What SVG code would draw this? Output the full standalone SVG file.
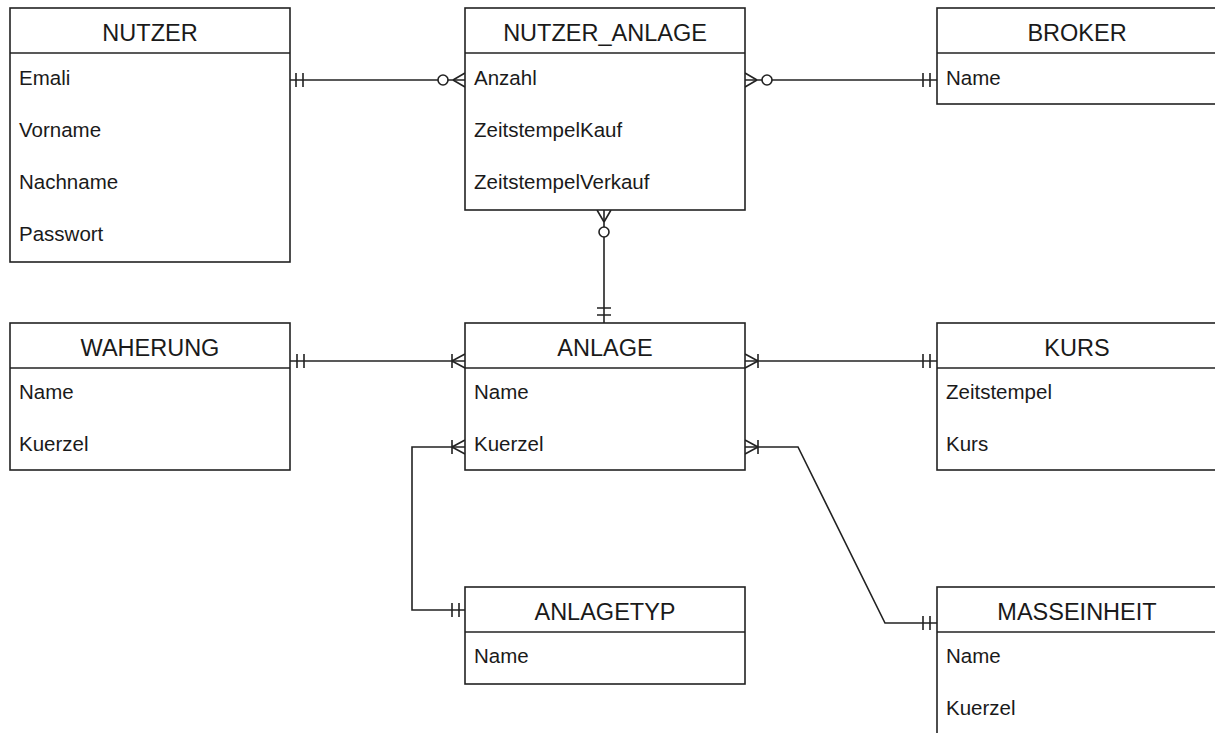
<svg xmlns="http://www.w3.org/2000/svg" width="1215" height="733" viewBox="0 0 1215 733">
<style>
.box{fill:#fff;stroke:#222;stroke-width:1.6}
.div{stroke:#222;stroke-width:1.6}
.hd{font-family:"Liberation Sans",Arial,sans-serif;font-size:23.5px;fill:#1a1a1a;text-anchor:middle}
.rw{font-family:"Liberation Sans",Arial,sans-serif;font-size:20.5px;fill:#1a1a1a}
.ln{fill:none;stroke:#222;stroke-width:1.6}
.ci{fill:#fff;stroke:#222;stroke-width:1.6}
</style>
<rect width="1215" height="733" fill="#fff"/>
<g id="connectors">
  <!-- NUTZER - NUTZER_ANLAGE -->
  <path class="ln" d="M290,80 H465"/>
  <path class="ln" d="M296,73 V87 M303,73 V87"/>
  <path class="ln" d="M453,80 L465,73 M453,80 L465,87"/>
  <circle class="ci" cx="443" cy="80" r="5"/>
  <!-- NUTZER_ANLAGE - BROKER -->
  <path class="ln" d="M745,80 H937"/>
  <path class="ln" d="M757,80 L745,73 M757,80 L745,87"/>
  <circle class="ci" cx="767" cy="80" r="5"/>
  <path class="ln" d="M923,73 V87 M930,73 V87"/>
  <!-- NUTZER_ANLAGE - ANLAGE -->
  <path class="ln" d="M604,210 V323"/>
  <path class="ln" d="M604,222 L597,210 M604,222 L611,210"/>
  <circle class="ci" cx="604" cy="232" r="5"/>
  <path class="ln" d="M597,308 H611 M597,315 H611"/>
  <!-- WAHERUNG - ANLAGE -->
  <path class="ln" d="M290,361 H465"/>
  <path class="ln" d="M297,354 V368 M304,354 V368"/>
  <path class="ln" d="M452,361 L465,354 M452,361 L465,368 M452,354 V368"/>
  <!-- ANLAGE - KURS -->
  <path class="ln" d="M745,361 H937"/>
  <path class="ln" d="M758,361 L745,354 M758,361 L745,368 M758,354 V368"/>
  <path class="ln" d="M923,354 V368 M930,354 V368"/>
  <!-- ANLAGE - ANLAGETYP -->
  <path class="ln" d="M465,447 H412 V610 H465"/>
  <path class="ln" d="M452,447 L465,440 M452,447 L465,454 M452,440 V454"/>
  <path class="ln" d="M452,603 V617 M459,603 V617"/>
  <!-- ANLAGE - MASSEINHEIT -->
  <path class="ln" d="M745,447 H798 L885,623 H937"/>
  <path class="ln" d="M758,447 L745,440 M758,447 L745,454 M758,440 V454"/>
  <path class="ln" d="M923,616 V630 M930,616 V630"/>
</g>
<g id="NUTZER">
  <rect class="box" x="10" y="8" width="280" height="254"/>
  <line class="div" x1="10" y1="53" x2="290" y2="53"/>
  <text class="hd" x="150" y="41">NUTZER</text>
  <text class="rw" x="19" y="85">Emali</text>
  <text class="rw" x="19" y="137">Vorname</text>
  <text class="rw" x="19" y="189">Nachname</text>
  <text class="rw" x="19" y="241">Passwort</text>
</g>
<g id="NUTZER_ANLAGE">
  <rect class="box" x="465" y="8" width="280" height="202"/>
  <line class="div" x1="465" y1="53" x2="745" y2="53"/>
  <text class="hd" x="605" y="41">NUTZER_ANLAGE</text>
  <text class="rw" x="474" y="85">Anzahl</text>
  <text class="rw" x="474" y="137">ZeitstempelKauf</text>
  <text class="rw" x="474" y="189">ZeitstempelVerkauf</text>
</g>
<g id="BROKER">
  <rect class="box" x="937" y="8" width="290" height="96"/>
  <line class="div" x1="937" y1="53" x2="1227" y2="53"/>
  <text class="hd" x="1077" y="41">BROKER</text>
  <text class="rw" x="946" y="85">Name</text>
</g>
<g id="WAHERUNG">
  <rect class="box" x="10" y="323" width="280" height="147"/>
  <line class="div" x1="10" y1="368" x2="290" y2="368"/>
  <text class="hd" x="150" y="356">WAHERUNG</text>
  <text class="rw" x="19" y="399">Name</text>
  <text class="rw" x="19" y="451">Kuerzel</text>
</g>
<g id="ANLAGE">
  <rect class="box" x="465" y="323" width="280" height="147"/>
  <line class="div" x1="465" y1="368" x2="745" y2="368"/>
  <text class="hd" x="605" y="356">ANLAGE</text>
  <text class="rw" x="474" y="399">Name</text>
  <text class="rw" x="474" y="451">Kuerzel</text>
</g>
<g id="KURS">
  <rect class="box" x="937" y="323" width="290" height="147"/>
  <line class="div" x1="937" y1="368" x2="1227" y2="368"/>
  <text class="hd" x="1077" y="356">KURS</text>
  <text class="rw" x="946" y="399">Zeitstempel</text>
  <text class="rw" x="946" y="451">Kurs</text>
</g>
<g id="ANLAGETYP">
  <rect class="box" x="465" y="587" width="280" height="97"/>
  <line class="div" x1="465" y1="632" x2="745" y2="632"/>
  <text class="hd" x="605" y="620">ANLAGETYP</text>
  <text class="rw" x="474" y="663">Name</text>
</g>
<g id="MASSEINHEIT">
  <rect class="box" x="937" y="587" width="290" height="160"/>
  <line class="div" x1="937" y1="632" x2="1227" y2="632"/>
  <text class="hd" x="1077" y="620">MASSEINHEIT</text>
  <text class="rw" x="946" y="663">Name</text>
  <text class="rw" x="946" y="715">Kuerzel</text>
</g>
</svg>
